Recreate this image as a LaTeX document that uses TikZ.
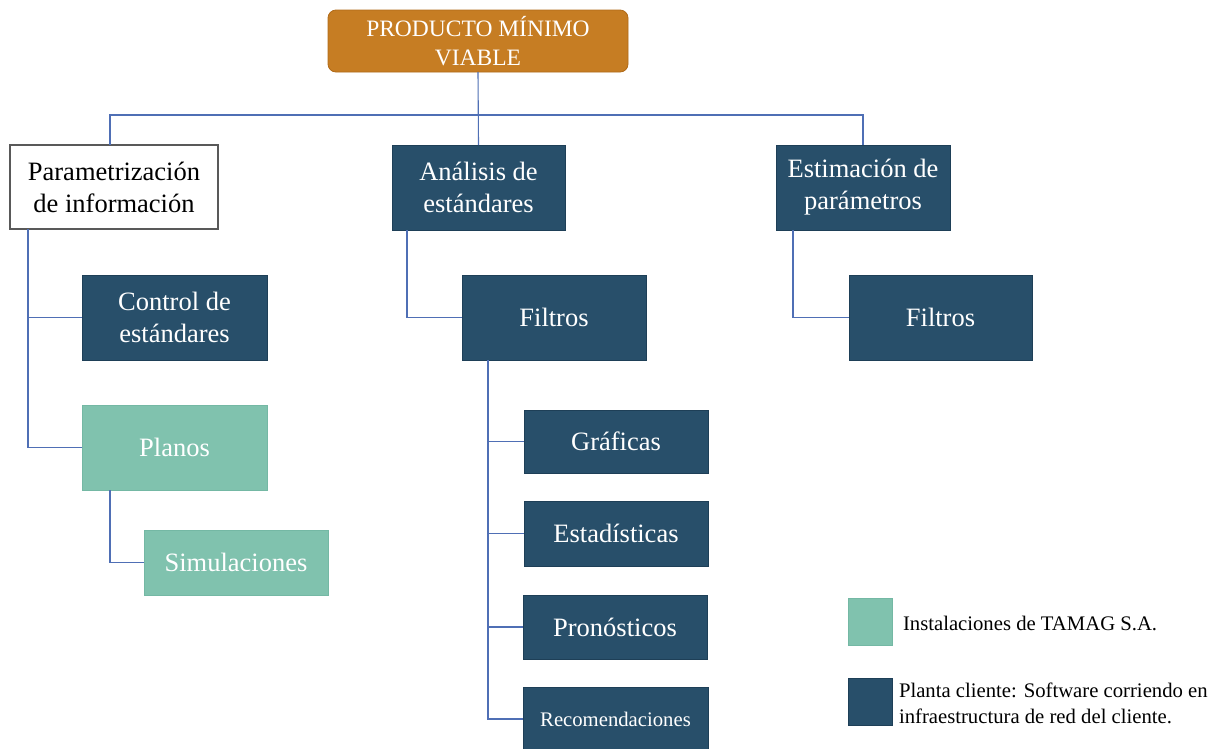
\documentclass[tikz,border=0pt]{standalone}
\usepackage{fontspec}
\setmainfont{Liberation Serif}
\definecolor{navy}{HTML}{284F6A}
\definecolor{navyedge}{HTML}{1E3F57}
\definecolor{teal}{HTML}{80C2AE}
\definecolor{tealedge}{HTML}{74B8A4}
\definecolor{orange}{HTML}{C67D23}
\definecolor{orangeedge}{HTML}{B06A18}
\definecolor{conncol}{HTML}{4F6FB5}
\begin{document}
\begin{tikzpicture}[x=1pt,y=-1pt,
  every node/.style={inner sep=0pt, outer sep=0pt, align=center},
  bigtxt/.style={font=\fontsize{26.5}{32}\selectfont},
  darkbox/.style={draw=navyedge, line width=0.8pt, fill=navy, text=white, bigtxt},
  tealbox/.style={draw=tealedge, line width=0.8pt, fill=teal, text=white, bigtxt},
  whitebox/.style={draw=black!65, line width=1.1pt, fill=white, text=black, bigtxt},
  topbox/.style={draw=orangeedge, line width=0.8pt, fill=orange, text=white, rounded corners=8pt, font=\fontsize{23.5}{29}\selectfont},
  conn/.style={draw=conncol, line width=1.1pt},
  legtxt/.style={font=\fontsize{20.7}{26}\selectfont, align=left, text=black}
]
\useasboundingbox (0,0) rectangle (1216,748);
\fill[white] (0,0) rectangle (1216,748);

% top
\node[topbox, minimum width=300pt, minimum height=62pt] (top) at (478,41) {PRODUCTO MÍNIMO\\VIABLE};

% level 1
\node[whitebox, minimum width=208pt, minimum height=84pt] (param) at (114,187) {Parametrización\\de información};
\node[darkbox, minimum width=173pt, minimum height=85pt] (analisis) at (478.5,187.5) {Análisis de\\estándares};
\node[darkbox, minimum width=174pt, minimum height=85pt] (estim) at (863,187.5) {Estimación de\\parámetros};

% level 2
\node[darkbox, minimum width=185pt, minimum height=85pt] (control) at (174.5,317.5) {Control de\\estándares};
\node[tealbox, minimum width=185pt, minimum height=85pt] (planos) at (174.5,447.5) {Planos};
\node[tealbox, minimum width=184pt, minimum height=65pt] (simul) at (236,562.5) {Simulaciones};
\node[darkbox, minimum width=184pt, minimum height=85pt] (filtrosA) at (554,317.5) {Filtros};
\node[darkbox, minimum width=183pt, minimum height=85pt] (filtrosB) at (940.5,317.5) {Filtros};

% level 3
\node[darkbox, minimum width=184pt, minimum height=63pt] (graf) at (616,441.5) {Gráficas};
\node[darkbox, minimum width=184pt, minimum height=65pt] (estad) at (616,533.5) {Estadísticas};
\node[darkbox, minimum width=184pt, minimum height=64pt] (pron) at (615,627) {Pronósticos};
\node[darkbox, minimum width=185pt, minimum height=64pt, font=\fontsize{20.7}{25}\selectfont] (recom) at (615.5,719) {Recomendaciones};

% connectors
\coordinate (bus) at (478,115);
\draw[conn] (top.south) -- (analisis.north);
\draw[conn] ([xshift=-4pt]param.north) |- (bus) -| (estim.north);
\draw[conn] ([xshift=-86pt]param.south) |- (control.west);
\draw[conn] ([xshift=-86pt]param.south) |- (planos.west);
\draw[conn] ([xshift=-64.5pt]planos.south) |- (simul.west);
\draw[conn] ([xshift=-71.5pt]analisis.south) |- (filtrosA.west);
\draw[conn] ([xshift=-70pt]estim.south) |- (filtrosB.west);
\draw[conn] ([xshift=-66pt]filtrosA.south) |- (graf.west);
\draw[conn] ([xshift=-66pt]filtrosA.south) |- (estad.west);
\draw[conn] ([xshift=-66pt]filtrosA.south) |- (pron.west);
\draw[conn] ([xshift=-66pt]filtrosA.south) |- (recom.west);

% legend
\node[fill=teal, draw=tealedge, line width=0.8pt, minimum width=44pt, minimum height=47pt] (legA) at (870,621.5) {};
\node[fill=navy, draw=navyedge, line width=0.8pt, minimum width=44pt, minimum height=47pt] (legB) at (870,701.5) {};
\node[legtxt, anchor=west] (legAtxt) at (903,623) {Instalaciones de TAMAG S.A.};
\node[legtxt, anchor=west] (legBtxt) at (899,703) {Planta cliente: Software corriendo en\\infraestructura de red del cliente.};
\end{tikzpicture}
\end{document}
